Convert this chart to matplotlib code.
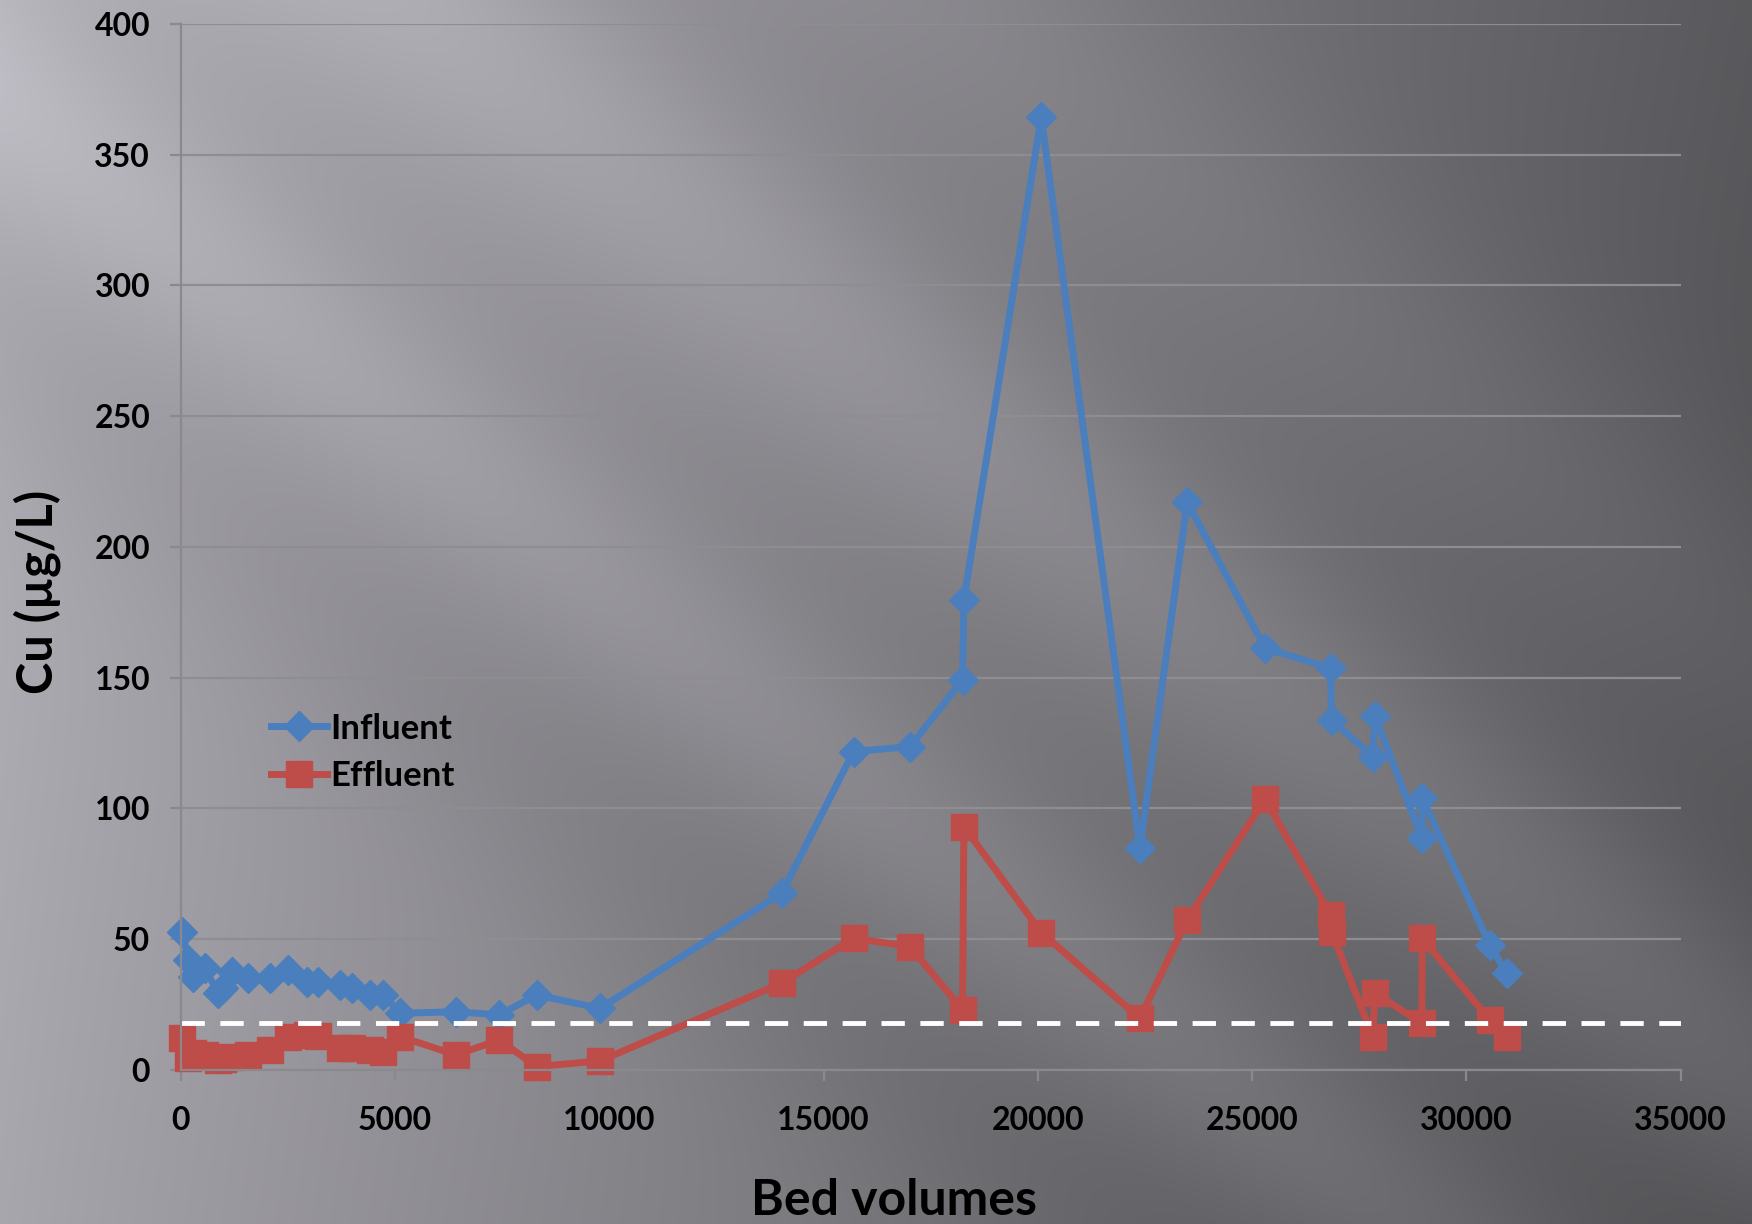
import numpy as np
import matplotlib
matplotlib.use("Agg")
from matplotlib import pyplot as plt

plt.rcParams['font.family'] = ['Lato', 'DejaVu Sans']
plt.rcParams['font.weight'] = 'bold'

# bed volumes treated and Cu concentrations (ug/L)
bed_volumes = [40, 178, 295, 567, 877, 994, 1190, 1577, 2084, 2511, 2940, 3211, 3717, 3990,
               4417, 4727, 5117, 6423, 7434, 8306, 9783, 14022, 15700, 17020, 18245, 18275,
               20080, 22382, 23486, 25305, 26831, 26854, 27815, 27866, 28960, 28970, 30548, 30937]
influent = [52.8, 42.0, 35.6, 38.8, 29.3, 31.2, 37.5, 35.0, 35.0, 38.2, 33.7, 33.7, 32.4, 31.2,
            28.6, 28.6, 21.6, 22.2, 21.0, 28.6, 23.5, 67.5, 121.7, 123.6, 149.1, 179.7,
            364.4, 84.7, 217.1, 161.2, 153.6, 133.8, 119.8, 135.3, 88.6, 103.9, 47.7, 36.9]
effluent = [12.0, 4.5, 6.3, 5.5, 3.7, 4.0, 5.0, 5.7, 7.6, 12.7, 13.3, 13.0, 8.2, 8.2,
            7.6, 6.9, 12.7, 5.7, 11.4, 1.2, 3.4, 33.1, 50.3, 47.1, 22.9, 93.0,
            52.5, 19.7, 57.3, 103.5, 59.2, 52.8, 12.7, 29.3, 17.8, 50.3, 19.0, 12.7]
limit = 17.8

W, H = 1752, 1224
fig = plt.figure(figsize=(W / 100, H / 100), dpi=100)

# slide-style gray background with soft diagonal light streaks
X, Y = np.meshgrid(np.arange(W), np.arange(H))
u = X / W
g = 0.70 - 0.35 * u ** 0.9 - 0.04 * (Y / H)
s = X - 1.25 * Y
g += 0.08 * np.exp(-((s - 420) / 200) ** 2)
g += 0.05 * np.exp(-((s + 120) / 150) ** 2)
g -= 0.03 * np.exp(-((s + 420) / 200) ** 2)
g += 0.04 * np.exp(-((s - 950) / 220) ** 2)
img = np.dstack([g * 1.0, g * 0.99, g * 1.03]).clip(0, 1)
bg = fig.add_axes([0, 0, 1, 1], zorder=0)
bg.imshow(img, aspect='auto', interpolation='bilinear')
bg.axis('off')

ax = fig.add_axes([0.1031, 0.126, 0.8562, 0.8545], zorder=1)
ax.patch.set_alpha(0)

blue = '#4a7ebd'
red = '#be4c49'
ax.plot(bed_volumes, influent, color=blue, lw=5, marker='D', ms=15,
        mec=blue, mfc=blue, label='Influent', solid_joinstyle='round', clip_on=False)
ax.plot(bed_volumes, effluent, color=red, lw=5, marker='s', ms=19,
        mec=red, mfc=red, label='Effluent', solid_joinstyle='round', clip_on=False)
ax.axhline(limit, color='white', lw=3.5, dashes=(4.8, 3.2))

ax.set_xlim(0, 35000)
ax.set_ylim(0, 400)
ax.set_xticks(np.arange(0, 35001, 5000))
ax.set_yticks(np.arange(0, 401, 50))
ax.yaxis.grid(True, color='#8e8d91', lw=1.6)
ax.set_axisbelow(True)
for side in ('top', 'right'):
    ax.spines[side].set_visible(False)
for side in ('left', 'bottom'):
    ax.spines[side].set_color('#8a898d')
    ax.spines[side].set_linewidth(1.6)
ax.tick_params(axis='both', colors='#8a898d', width=1.6, length=8, labelcolor='black',
               labelsize=23)
ax.tick_params(axis='y', pad=14)
ax.tick_params(axis='x', pad=18)

ax.legend(loc='upper left', bbox_to_anchor=(0.145, 0.432), bbox_transform=fig.transFigure,
          frameon=False, fontsize=25, handlelength=1.6, handletextpad=0.1,
          borderpad=0, labelspacing=0.45)

fig.text(0.021, 0.516, 'Cu (µg/L)', rotation=90, ha='center', va='center',
         fontsize=35, fontweight='bold')
fig.text(0.510, 0.019, 'Bed volumes', ha='center', va='center',
         fontsize=36, fontweight='bold')

fig.savefig('out.png', dpi=100)
